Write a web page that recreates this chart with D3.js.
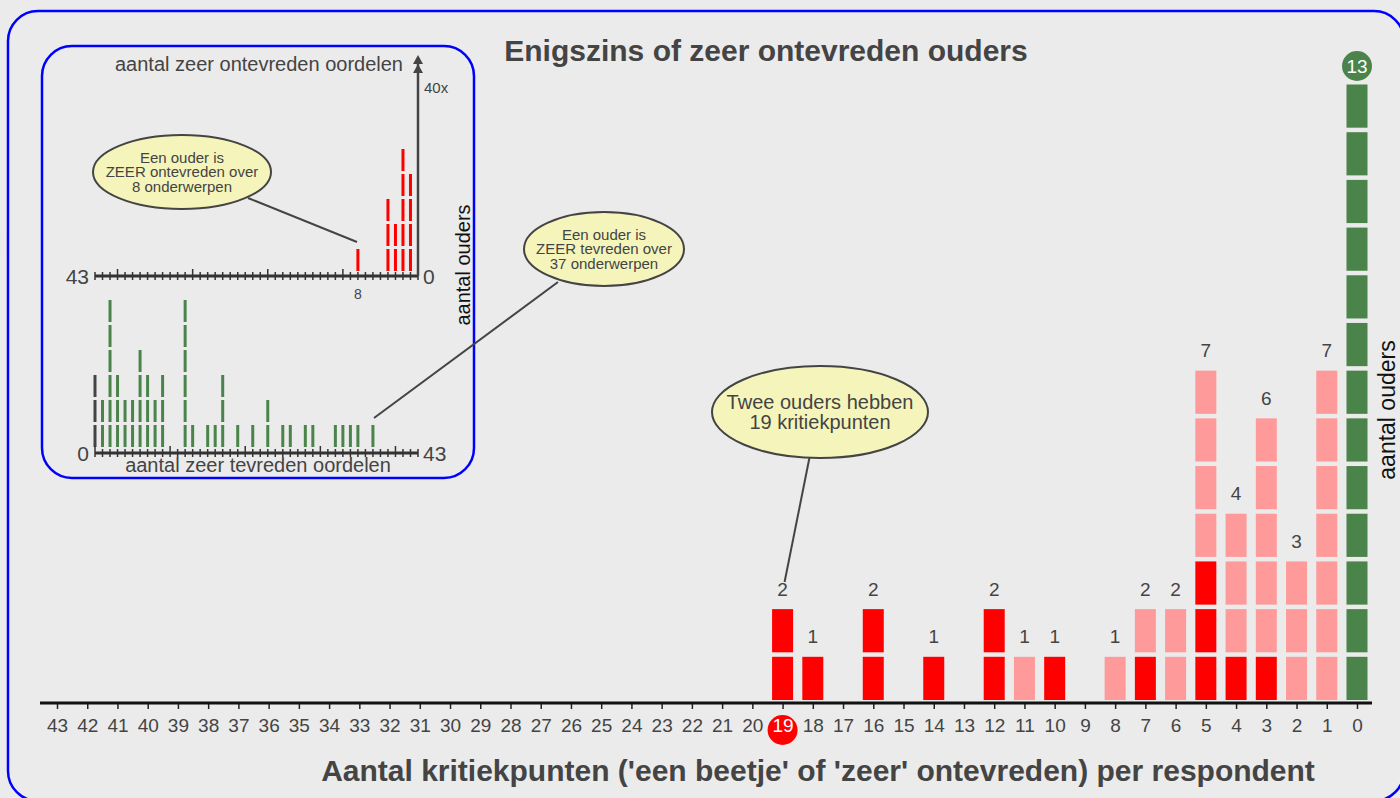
<!DOCTYPE html>
<html>
<head>
<meta charset="utf-8">
<script src="https://cdn.jsdelivr.net/npm/d3@7"></script>
<style>
  body { margin: 0; background: #ebebeb; }
  svg { display: block; font-family: "Liberation Sans", Arial, sans-serif; }
</style>
</head>
<body>
<script>
// hoofdgrafiek: aantal kritiekpunten per respondent
var kritiek = [19, 18, 16, 14, 12, 11, 10, 8, 7, 6, 5, 4, 3, 2, 1, 0];
var zeerOntevreden = [2, 1, 2, 1, 2, 0, 1, 0, 1, 0, 3, 1, 1, 0, 0, 0];   // rood
var beetjeOntevreden = [0, 0, 0, 0, 0, 1, 0, 1, 1, 2, 4, 3, 5, 3, 7, 0]; // roze
var geenKritiek = [0, 0, 0, 0, 0, 0, 0, 0, 0, 0, 0, 0, 0, 0, 0, 13];   // groen

// inzet boven: aantal zeer ontevreden oordelen
var zoOordelen = [8, 4, 3, 2, 1];
var zoOuders = [1, 3, 2, 5, 4];
var zoNul = 40;

// inzet onder: aantal zeer tevreden oordelen
var ztOordelen = [0, 1, 2, 3, 4, 5, 6, 7, 8, 9, 12, 13, 15, 16, 17, 19, 21, 23, 25, 26, 28, 29, 32, 33, 34, 35, 37];
var ztOuders = [3, 2, 6, 3, 2, 2, 4, 3, 2, 3, 6, 1, 1, 1, 3, 1, 1, 2, 1, 1, 1, 1, 1, 1, 1, 1, 1];

var width = 1400, height = 798;
var grey = "#444";

var svg = d3.select("body").append("svg")
    .attr("width", width)
    .attr("height", height);

svg.append("rect")
    .attr("x", 8).attr("y", 11)
    .attr("width", 1396).attr("height", 790)
    .attr("rx", 30)
    .attr("fill", "#ebebeb")
    .attr("stroke", "#0000ff")
    .attr("stroke-width", 2.5);

// ---------- hoofdgrafiek ----------
var x = d3.scaleLinear().domain([43, 0]).range([57, 1357]);
var y = d3.scaleLinear().domain([0, 13]).range([700, 80]);
var barW = 21, gap = 4.5;

var rows = kritiek.map(function(k, i) {
    return { k: k, rood: zeerOntevreden[i], roze: beetjeOntevreden[i], groen: geenKritiek[i] };
});

var blocks = [];
rows.forEach(function(r) {
    var n = 0;
    [["rood", "#ff0000"], ["roze", "#ff9a9a"], ["groen", "#4b844b"]].forEach(function(s) {
        for (var j = 0; j < r[s[0]]; j++) {
            blocks.push({ k: r.k, i: n, c: s[1] });
            n++;
        }
    });
    r.total = n;
});

svg.append("g").selectAll("rect")
    .data(blocks)
    .enter().append("rect")
    .attr("x", function(d) { return x(d.k) - barW / 2; })
    .attr("y", function(d) { return y(d.i + 1) + gap; })
    .attr("width", barW)
    .attr("height", function(d) { return y(d.i) - y(d.i + 1) - gap; })
    .attr("fill", function(d) { return d.c; });

svg.append("g").selectAll("text")
    .data(rows.filter(function(r) { return r.k !== 0; }))
    .enter().append("text")
    .attr("x", function(d) { return x(d.k); })
    .attr("y", function(d) { return y(d.total) - 9; })
    .attr("text-anchor", "middle")
    .attr("font-size", 19)
    .attr("fill", grey)
    .text(function(d) { return d.total; });

// groene cirkel met 13
var nul = rows[rows.length - 1];
svg.append("circle")
    .attr("cx", x(0)).attr("cy", y(nul.total) - 14)
    .attr("r", 15).attr("fill", "#4b844b");
svg.append("text")
    .attr("x", x(0)).attr("y", y(nul.total) - 7.5)
    .attr("text-anchor", "middle")
    .attr("font-size", 19).attr("fill", "#fff")
    .text(nul.total);

// x-as
var xAxis = d3.axisBottom(x)
    .tickValues(d3.range(43, -1, -1))
    .tickSize(6)
    .tickPadding(10)
    .tickFormat(d3.format("d"));

var gx = svg.append("g")
    .attr("transform", "translate(0,703)")
    .call(xAxis);
gx.select(".domain").remove();
gx.selectAll(".tick line").attr("stroke", "#222").attr("stroke-width", 1.5);
gx.selectAll(".tick text")
    .attr("font-size", 19)
    .attr("font-family", "Liberation Sans, Arial, sans-serif")
    .attr("fill", grey);
gx.append("line")
    .attr("x1", 40).attr("x2", 1372)
    .attr("stroke", "#111").attr("stroke-width", 3);

// rode cirkel om 19
svg.insert("circle", "g")
    .attr("cx", x(19)).attr("cy", 730).attr("r", 15).attr("fill", "#ff0000");
gx.selectAll(".tick text").filter(function(d) { return d === 19; }).attr("fill", "#fff");

svg.append("text")
    .attr("x", 766).attr("y", 61)
    .attr("text-anchor", "middle")
    .attr("font-size", 30).attr("font-weight", "bold").attr("fill", grey)
    .text("Enigszins of zeer ontevreden ouders");

svg.append("text")
    .attr("x", 818).attr("y", 781)
    .attr("text-anchor", "middle")
    .attr("font-size", 30).attr("font-weight", "bold").attr("fill", grey)
    .text("Aantal kritiekpunten ('een beetje' of 'zeer' ontevreden) per respondent");

svg.append("text")
    .attr("transform", "translate(1395,410) rotate(-90)")
    .attr("text-anchor", "middle")
    .attr("font-size", 23).attr("fill", "#111")
    .text("aantal ouders");

// ballon
function ballon(cx, cy, rx, ry, lines, fs, lh, lx1, ly1, lx2, ly2) {
    svg.append("line")
        .attr("x1", lx1).attr("y1", ly1).attr("x2", lx2).attr("y2", ly2)
        .attr("stroke", grey).attr("stroke-width", 2);
    svg.append("ellipse")
        .attr("cx", cx).attr("cy", cy).attr("rx", rx).attr("ry", ry)
        .attr("fill", "#f5f5bb").attr("stroke", grey).attr("stroke-width", 2);
    lines.forEach(function(t, i) {
        svg.append("text")
            .attr("x", cx)
            .attr("y", cy - (lines.length - 1) * lh / 2 + i * lh + fs * 0.35)
            .attr("text-anchor", "middle")
            .attr("font-size", fs).attr("fill", grey)
            .text(t);
    });
}

ballon(820, 412, 108, 46, ["Twee ouders hebben", "19 kritiekpunten"], 20, 20, 810, 455, x(19) + 2, 582);

// ---------- inzet ----------
svg.append("rect")
    .attr("x", 42).attr("y", 46)
    .attr("width", 432).attr("height", 432)
    .attr("rx", 30)
    .attr("fill", "#ebebeb")
    .attr("stroke", "#0000ff")
    .attr("stroke-width", 2.5);

var xi = d3.scaleLinear().domain([43, 0]).range([95, 418]);
var xb = d3.scaleLinear().domain([0, 43]).range([95, 418]);
var unit = 25, bw = 3, bgap = 3;

function tickAs(scale, ay) {
    var g = svg.append("g");
    g.append("line")
        .attr("x1", scale.range()[0]).attr("x2", scale.range()[1])
        .attr("y1", ay).attr("y2", ay)
        .attr("stroke", "#333").attr("stroke-width", 3);
    g.selectAll("line.t")
        .data(d3.range(0, 44))
        .enter().append("line")
        .attr("class", "t")
        .attr("x1", function(d) { return scale(d); })
        .attr("x2", function(d) { return scale(d); })
        .attr("y1", function(d) { return d % 10 === 0 ? ay - 7 : ay - 4; })
        .attr("y2", ay + 4)
        .attr("stroke", "#333").attr("stroke-width", 1.5);
}

// boven: zeer ontevreden
var topY = 276;
tickAs(xi, topY);
var zoBlocks = [];
zoOordelen.forEach(function(v, i) {
    for (var j = 0; j < zoOuders[i]; j++) zoBlocks.push({ v: v, j: j });
});
svg.append("g").selectAll("rect")
    .data(zoBlocks)
    .enter().append("rect")
    .attr("x", function(d) { return xi(d.v) - bw / 2; })
    .attr("y", function(d) { return topY - 5 - (d.j + 1) * unit + bgap; })
    .attr("width", bw)
    .attr("height", unit - bgap)
    .attr("fill", "#ff0000");

svg.append("line")
    .attr("x1", xi(0)).attr("x2", xi(0))
    .attr("y1", topY).attr("y2", 62)
    .attr("stroke", grey).attr("stroke-width", 2.5);
[55, 64].forEach(function(t) {
    svg.append("path")
        .attr("d", "M" + xi(0) + "," + t + "L" + (xi(0) + 5) + "," + (t + 9) + "L" + (xi(0) - 5) + "," + (t + 9) + "Z")
        .attr("fill", grey);
});
svg.append("text")
    .attr("x", 424).attr("y", 93)
    .attr("font-size", 15).attr("fill", grey)
    .text(zoNul + "x");

svg.append("text")
    .attr("x", 403).attr("y", 71)
    .attr("text-anchor", "end")
    .attr("font-size", 20).attr("fill", grey)
    .text("aantal zeer ontevreden oordelen");

svg.append("text")
    .attr("x", 89).attr("y", topY + 8)
    .attr("text-anchor", "end")
    .attr("font-size", 21).attr("fill", grey)
    .text("43");
svg.append("text")
    .attr("x", 423).attr("y", topY + 8)
    .attr("font-size", 21).attr("fill", grey)
    .text("0");
svg.append("text")
    .attr("x", xi(8)).attr("y", 299)
    .attr("text-anchor", "middle")
    .attr("font-size", 14).attr("fill", grey)
    .text("8");

// onder: zeer tevreden
var botY = 453;
var ztBlocks = [];
ztOordelen.forEach(function(v, i) {
    for (var j = 0; j < ztOuders[i]; j++) ztBlocks.push({ v: v, j: j });
});
svg.append("g").selectAll("rect")
    .data(ztBlocks)
    .enter().append("rect")
    .attr("x", function(d) { return xb(d.v) - bw / 2; })
    .attr("y", function(d) { return botY - 6 - (d.j + 1) * unit + bgap; })
    .attr("width", bw)
    .attr("height", unit - bgap)
    .attr("fill", function(d) { return d.v === 0 ? "#444" : "#4b844b"; });
tickAs(xb, botY);

svg.append("text")
    .attr("x", 89).attr("y", botY + 8)
    .attr("text-anchor", "end")
    .attr("font-size", 21).attr("fill", grey)
    .text("0");
svg.append("text")
    .attr("x", 423).attr("y", botY + 8)
    .attr("font-size", 21).attr("fill", grey)
    .text("43");
svg.append("text")
    .attr("x", 258).attr("y", 472)
    .attr("text-anchor", "middle")
    .attr("font-size", 20).attr("fill", grey)
    .text("aantal zeer tevreden oordelen");

svg.append("text")
    .attr("transform", "translate(470,265) rotate(-90)")
    .attr("text-anchor", "middle")
    .attr("font-size", 20).attr("fill", "#111")
    .text("aantal ouders");

ballon(182, 172, 89, 37, ["Een ouder is", "ZEER ontevreden over", "8 onderwerpen"], 15, 14.5, 248, 198, 357, 242);
ballon(604, 249, 80, 37, ["Een ouder is", "ZEER tevreden over", "37 onderwerpen"], 15, 14.5, 558, 282, 374, 418);
</script>
</body>
</html>
